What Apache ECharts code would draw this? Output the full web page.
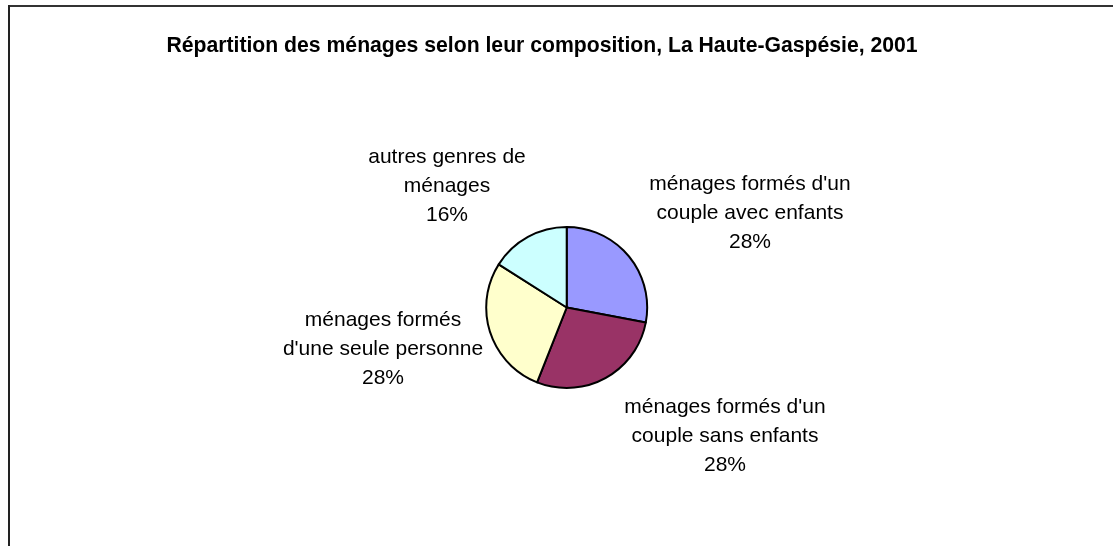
<!DOCTYPE html>
<html>
<head>
<meta charset="utf-8">
<script src="https://cdn.jsdelivr.net/npm/echarts@6/dist/echarts.min.js"></script>
<style>
  html, body { margin: 0; padding: 0; background: #fff; }
  #chart { width: 1113px; height: 546px; }
</style>
</head>
<body>
<div id="chart"></div>
<script>
// catégories (ordre des secteurs, sens horaire depuis midi)
var categories = [
    "ménages formés d'un\ncouple avec enfants",
    "ménages formés d'un\ncouple sans enfants",
    "ménages formés\nd'une seule personne",
    "autres genres de\nménages"
];
// parts en %
var values = [28, 28, 28, 16];
var colors = ['#9999FF', '#993366', '#FFFFCC', '#CCFFFF'];

// centre des étiquettes (mise en page seulement)
var labelPos = [[750, 213], [725, 436], [383, 349], [447, 186]];

var chart = echarts.init(document.getElementById('chart'));

chart.setOption({
    backgroundColor: '#fff',
    textStyle: { fontFamily: 'Liberation Sans, Arial, sans-serif' },
    title: {
        text: 'Répartition des ménages selon leur composition, La Haute-Gaspésie, 2001',
        left: 537,
        top: 31,
        textAlign: 'center',
        textStyle: {
            fontFamily: 'Liberation Sans, Arial, sans-serif',
            fontSize: 21.2,
            fontWeight: 'bold',
            color: '#000'
        }
    },
    graphic: [
        { type: 'line', shape: { x1: 8, y1: 6, x2: 1113, y2: 6 }, style: { stroke: '#333', lineWidth: 2 } },
        { type: 'line', shape: { x1: 9, y1: 5, x2: 9, y2: 546 }, style: { stroke: '#222', lineWidth: 2 } }
    ],
    series: [
        {
            type: 'pie',
            center: [566.7, 307.5],
            radius: 80.5,
            startAngle: 90,
            clockwise: true,
            animation: false,
            itemStyle: { borderColor: '#000', borderWidth: 2 },
            emphasis: { disabled: true },
            label: {
                show: true,
                position: 'outside',
                formatter: '{b}\n{d}%',
                fontFamily: 'Liberation Sans, Arial, sans-serif',
                fontSize: 21,
                lineHeight: 29,
                color: '#000',
                align: 'center'
            },
            labelLine: { show: false },
            labelLayout: function (p) {
                var pos = labelPos[p.dataIndex];
                return { x: pos[0], y: pos[1], align: 'center', verticalAlign: 'middle' };
            },
            data: categories.map(function (c, i) {
                return { name: c, value: values[i], itemStyle: { color: colors[i] } };
            })
        }
    ]
});
</script>
</body>
</html>
